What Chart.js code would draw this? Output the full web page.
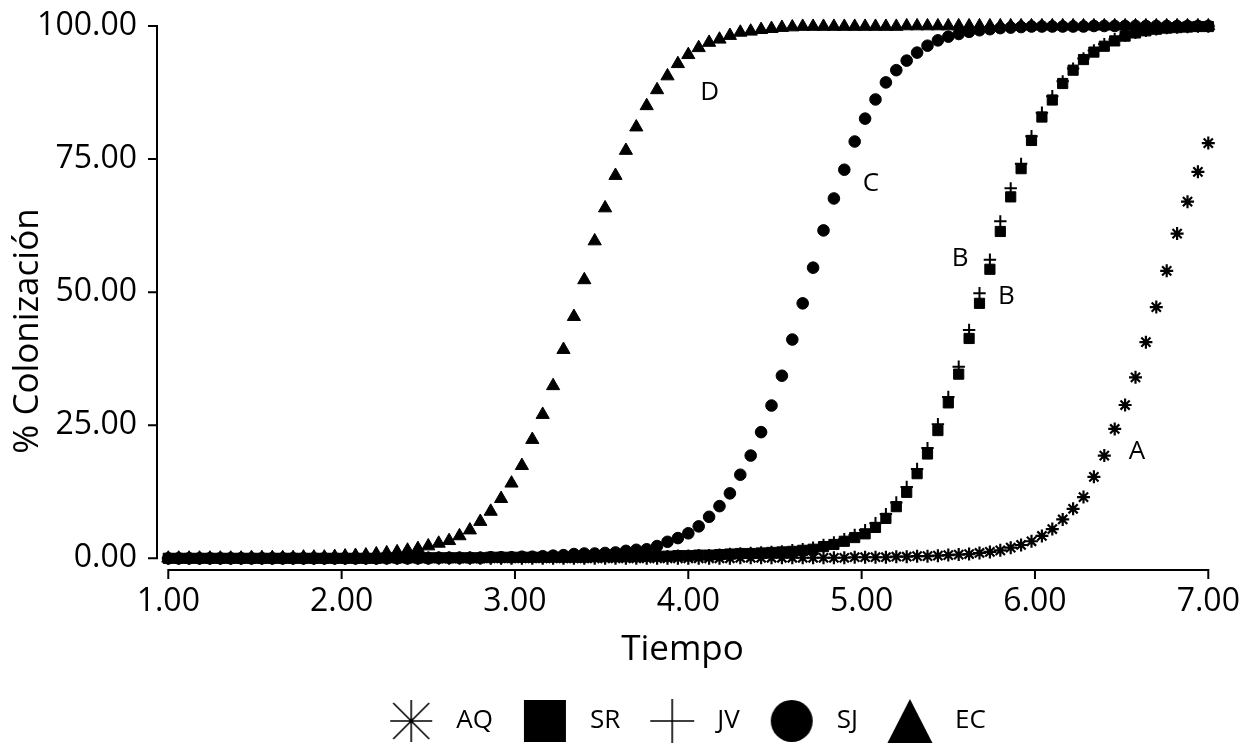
<!DOCTYPE html>
<html>
<head>
<meta charset="utf-8">
<script src="https://cdn.jsdelivr.net/npm/chart.js@4.4.1/dist/chart.umd.min.js"></script>
<style>
  html, body { margin: 0; padding: 0; background: #ffffff; }
  canvas { display: block; }
</style>
</head>
<body>
<canvas id="c" width="1245" height="744"></canvas>
<script>
// ---------------- DATA ----------------
const tiempo = [
  1.00,1.06,1.12,1.18,1.24,1.30,1.36,1.42,1.48,1.54,
  1.60,1.66,1.72,1.78,1.84,1.90,1.96,2.02,2.08,2.14,
  2.20,2.26,2.32,2.38,2.44,2.50,2.56,2.62,2.68,2.74,
  2.80,2.86,2.92,2.98,3.04,3.10,3.16,3.22,3.28,3.34,
  3.40,3.46,3.52,3.58,3.64,3.70,3.76,3.82,3.88,3.94,
  4.00,4.06,4.12,4.18,4.24,4.30,4.36,4.42,4.48,4.54,
  4.60,4.66,4.72,4.78,4.84,4.90,4.96,5.02,5.08,5.14,
  5.20,5.26,5.32,5.38,5.44,5.50,5.56,5.62,5.68,5.74,
  5.80,5.86,5.92,5.98,6.04,6.10,6.16,6.22,6.28,6.34,
  6.40,6.46,6.52,6.58,6.64,6.70,6.76,6.82,6.88,6.94,
  7.00
];

const AQ = [
  0.0,0.0,0.0,0.0,0.0,0.0,0.0,0.0,0.0,0.0,
  0.0,0.0,0.0,0.0,0.0,0.0,0.0,0.0,0.0,0.0,
  0.0,0.0,0.0,0.0,0.0,0.0,0.0,0.0,0.0,0.0,
  0.0,0.0,0.0,0.0,0.0,0.0,0.0,0.0,0.0,0.0,
  0.0,0.0,0.0,0.0,0.0,0.0,0.0,0.0,0.0,0.0,
  0.0,0.0,0.0,0.0,0.0,0.1,0.1,0.1,0.1,0.1,
  0.1,0.1,0.1,0.1,0.1,0.1,0.2,0.2,0.2,0.2,
  0.3,0.3,0.4,0.4,0.5,0.6,0.7,0.8,1.0,1.2,
  1.5,2.0,2.5,3.2,4.2,5.5,7.3,9.3,11.5,15.3,
  19.3,24.3,28.8,34.0,40.6,47.2,54.0,61.0,67.0,72.6,
  78.0
];

const SR = [
  0.0,0.0,0.0,0.0,0.0,0.0,0.0,0.0,0.0,0.0,
  0.0,0.0,0.0,0.0,0.0,0.0,0.0,0.0,0.0,0.0,
  0.0,0.1,0.1,0.1,0.1,0.1,0.1,0.1,0.1,0.1,
  0.1,0.2,0.2,0.2,0.2,0.2,0.2,0.2,0.2,0.2,
  0.2,0.3,0.3,0.3,0.3,0.3,0.4,0.4,0.4,0.5,
  0.5,0.6,0.6,0.7,0.8,0.9,0.9,1.0,1.1,1.2,
  1.3,1.5,1.7,2.2,2.6,3.2,3.9,4.6,5.8,7.5,
  9.7,12.4,15.9,19.6,24.0,29.2,34.6,41.3,47.9,54.3,
  61.4,67.9,73.2,78.5,82.9,86.1,89.2,91.7,93.7,95.1,
  96.2,97.2,98.1,98.7,99.1,99.4,99.6,99.7,99.8,99.9,
  99.9
];

const JV = [
  0.0,0.0,0.0,0.0,0.0,0.0,0.0,0.0,0.0,0.0,
  0.0,0.0,0.0,0.0,0.0,0.0,0.0,0.0,0.0,0.0,
  0.0,0.1,0.1,0.1,0.1,0.1,0.1,0.1,0.1,0.1,
  0.1,0.2,0.2,0.2,0.2,0.2,0.2,0.2,0.2,0.2,
  0.2,0.3,0.3,0.3,0.3,0.3,0.4,0.4,0.4,0.5,
  0.5,0.6,0.6,0.7,0.8,0.9,1.0,1.1,1.2,1.3,
  1.5,1.7,2.0,2.5,3.0,3.6,4.4,5.3,6.6,8.3,
  10.5,13.4,16.8,20.7,25.2,30.3,36.0,42.9,49.8,56.1,
  63.3,69.5,74.1,79.3,83.7,86.8,89.6,92.0,93.9,95.4,
  96.6,97.5,98.2,98.7,99.1,99.4,99.6,99.7,99.8,99.9,
  99.9
];

const SJ = [
  0.0,0.0,0.0,0.0,0.0,0.0,0.0,0.0,0.0,0.0,
  0.0,0.0,0.0,0.0,0.0,0.0,0.0,0.0,0.0,0.0,
  0.0,0.0,0.0,0.0,0.0,0.0,0.1,0.1,0.1,0.1,
  0.1,0.2,0.2,0.2,0.3,0.3,0.4,0.5,0.6,0.8,
  0.9,0.9,1.0,1.1,1.4,1.6,1.7,2.3,3.1,3.8,
  4.7,6.0,7.8,9.8,12.2,15.7,19.3,23.7,28.7,34.3,
  41.1,47.9,54.6,61.6,67.6,73.0,78.3,82.6,86.2,89.4,
  91.7,93.5,95.0,96.3,97.3,98.0,98.5,98.9,99.2,99.4,
  99.6,99.7,99.8,99.9,99.9,99.9,99.9,99.9,99.9,100.0,
  100.0,100.0,100.0,100.0,100.0,100.0,100.0,100.0,100.0,100.0,
  100.0
];

const EC = [
  0.0,0.0,0.0,0.0,0.0,0.0,0.0,0.0,0.1,0.1,
  0.1,0.1,0.1,0.2,0.2,0.2,0.3,0.4,0.5,0.6,
  0.8,1.0,1.2,1.5,1.8,2.3,2.8,3.3,4.2,5.3,
  6.9,8.8,11.2,14.1,17.4,22.3,27.0,32.4,39.2,45.4,
  52.3,59.6,65.8,71.9,76.6,81.0,85.0,88.0,90.6,92.9,
  94.6,95.9,96.9,97.5,98.2,98.8,99.0,99.3,99.5,99.7,
  99.8,99.9,99.9,99.9,99.9,99.9,99.9,99.9,99.9,99.9,
  99.9,100.0,100.0,100.0,100.0,100.0,100.0,100.0,100.0,100.0,
  100.0,100.0,100.0,100.0,100.0,100.0,100.0,100.0,100.0,100.0,
  100.0,100.0,100.0,100.0,100.0,100.0,100.0,100.0,100.0,100.0,
  100.0
];

const seriesNames = ['AQ', 'SR', 'JV', 'SJ', 'EC'];
const xTickValues = [1, 2, 3, 4, 5, 6, 7];
const yTickValues = [0, 25, 50, 75, 100];
const xTitle = 'Tiempo';
const yTitle = '% Colonización';

// curve letters (anchored in data coordinates)
const curveLetters = ['D', 'C', 'B', 'B', 'A'];
const curveLetterX = [4.123, 5.054, 5.569, 5.835, 6.589];
const curveLetterY = [87.5, 70.4, 56.3, 49.2, 20.0];

// ---------------- STYLE ----------------
const FONT = "'Open Sans', 'DejaVu Sans', sans-serif";
const INK = '#000000';

function makeIcon(kind) {
  const s = 46, m = s / 2;
  const c = document.createElement('canvas');
  c.width = s; c.height = s;
  const g = c.getContext('2d');
  g.fillStyle = INK; g.strokeStyle = INK; g.lineWidth = 1.6;
  if (kind === 'star') {
    const a = 2, b = s - 2;
    g.beginPath();
    g.moveTo(a, m); g.lineTo(b, m);
    g.moveTo(m, a); g.lineTo(m, b);
    g.moveTo(a + 3, a + 3); g.lineTo(b - 3, b - 3);
    g.moveTo(b - 3, a + 3); g.lineTo(a + 3, b - 3);
    g.stroke();
  } else if (kind === 'rect') {
    g.fillRect(2, 2, s - 4, s - 4);
  } else if (kind === 'cross') {
    g.beginPath();
    g.moveTo(1, m); g.lineTo(s - 1, m);
    g.moveTo(m, 1); g.lineTo(m, s - 1);
    g.stroke();
  } else if (kind === 'circle') {
    g.beginPath(); g.arc(m, m, 21, 0, Math.PI * 2); g.fill();
  } else if (kind === 'triangle') {
    g.beginPath(); g.moveTo(m, 1); g.lineTo(s - 0.5, s - 1); g.lineTo(0.5, s - 1); g.closePath(); g.fill();
  }
  return c;
}
const pointStyles = ['star', 'rect', 'cross', 'circle', 'triangle'];
const legendIcons = pointStyles.map(makeIcon);

function pts(vals) { return tiempo.map((t, i) => ({ x: t, y: vals[i] })); }

const seriesValues = [AQ, SR, JV, SJ, EC];
const pointRadii = [6.5, 7.2, 6.2, 5.8, 7.6];
const pointBorders = [2.2, 1, 2, 1, 1];
const drawOrder = [0, 2, 1, 3, 4];

const datasets = seriesNames.map((name, k) => ({
  label: name,
  data: pts(seriesValues[k]),
  pointStyle: pointStyles[k],
  pointRadius: pointRadii[k],
  pointHoverRadius: pointRadii[k],
  pointBorderWidth: pointBorders[k],
  borderColor: INK,
  backgroundColor: INK,
  showLine: false,
  clip: false,
  order: drawOrder[k]
}));

// detached axis lines & tick marks, placed with the library's scales
const detachedAxes = {
  id: 'detachedAxes',
  afterDatasetsDraw(chart) {
    const { ctx, scales: { x, y } } = chart;
    const xa = x.getPixelForValue(xTickValues[0]);
    const xb = x.getPixelForValue(xTickValues[xTickValues.length - 1]);
    const ya = y.getPixelForValue(yTickValues[0]);
    const yb = y.getPixelForValue(yTickValues[yTickValues.length - 1]);
    const axisX = xa - 11.3;
    const axisY = ya + 11.7;
    ctx.save();
    ctx.strokeStyle = INK;
    ctx.lineWidth = 2;
    ctx.beginPath();
    ctx.moveTo(axisX, ya + 1); ctx.lineTo(axisX, yb - 1);
    yTickValues.forEach(v => {
      const p = y.getPixelForValue(v);
      ctx.moveTo(axisX - 9, p); ctx.lineTo(axisX, p);
    });
    ctx.moveTo(xa - 1, axisY); ctx.lineTo(xb + 1, axisY);
    xTickValues.forEach(v => {
      const p = x.getPixelForValue(v);
      ctx.moveTo(p, axisY); ctx.lineTo(p, axisY + 9);
    });
    ctx.stroke();
    ctx.restore();
  }
};

const curveLabelPlugin = {
  id: 'curveLabels',
  afterDatasetsDraw(chart) {
    const { ctx, scales: { x, y } } = chart;
    ctx.save();
    ctx.fillStyle = INK;
    ctx.font = "26px " + FONT;
    ctx.textAlign = 'center';
    ctx.textBaseline = 'middle';
    curveLetters.forEach((t, i) => {
      ctx.fillText(t, x.getPixelForValue(curveLetterX[i]), y.getPixelForValue(curveLetterY[i]));
    });
    ctx.restore();
  }
};

function zeroPad(s) { s.paddingLeft = 0; s.paddingRight = 0; s.paddingTop = 0; s.paddingBottom = 0; }

new Chart(document.getElementById('c'), {
  type: 'scatter',
  data: { datasets },
  options: {
    responsive: false,
    animation: false,
    devicePixelRatio: 1,
    events: [],
    layout: { autoPadding: false, padding: { left: 0, right: 37, top: 0, bottom: 0 } },
    scales: {
      x: {
        type: 'linear',
        position: 'bottom',
        min: 0.93481,
        max: 6.99827,
        afterBuildTicks: s => { s.ticks = xTickValues.map(v => ({ value: v })); },
        afterFit: s => { s.height = 26; zeroPad(s); },
        grid: { display: false, drawTicks: false },
        border: { display: false },
        ticks: {
          autoSkip: false, maxRotation: 0, minRotation: 0, mirror: true, padding: 41, color: INK,
          font: { family: FONT, size: 32 },
          callback: v => Number(v).toFixed(2)
        },
        title: {
          display: true, text: xTitle, color: INK,
          font: { family: FONT, size: 35 },
          padding: { top: 0, bottom: 17 }
        }
      },
      y: {
        type: 'linear',
        position: 'left',
        min: -19.48,
        max: 104.884,
        afterBuildTicks: s => { s.ticks = yTickValues.map(v => ({ value: v })); },
        afterFit: s => { s.width = 157; zeroPad(s); },
        grid: { display: false, drawTicks: false },
        border: { display: false },
        ticks: {
          autoSkip: false, padding: 20, color: INK,
          font: { family: FONT, size: 32 },
          callback: v => Number(v).toFixed(2)
        },
        title: {
          display: true, text: yTitle, color: INK,
          font: { family: FONT, size: 35 },
          padding: { top: 7, bottom: 0 }
        }
      }
    },
    plugins: {
      tooltip: { enabled: false },
      legend: {
        display: true,
        position: 'bottom',
        fullSize: false,
        align: 'center',
        labels: {
          usePointStyle: true,
          pointStyleWidth: 64,
          padding: 20,
          color: INK,
          font: { family: FONT, size: 26 },
          generateLabels(chart) {
            const items = Chart.defaults.plugins.legend.labels.generateLabels(chart);
            items.sort((a, b) => a.datasetIndex - b.datasetIndex);
            items.forEach(it => { it.pointStyle = legendIcons[it.datasetIndex]; it.fontColor = INK; });
            return items;
          }
        }
      }
    }
  },
  plugins: [detachedAxes, curveLabelPlugin]
});
</script>
</body>
</html>
